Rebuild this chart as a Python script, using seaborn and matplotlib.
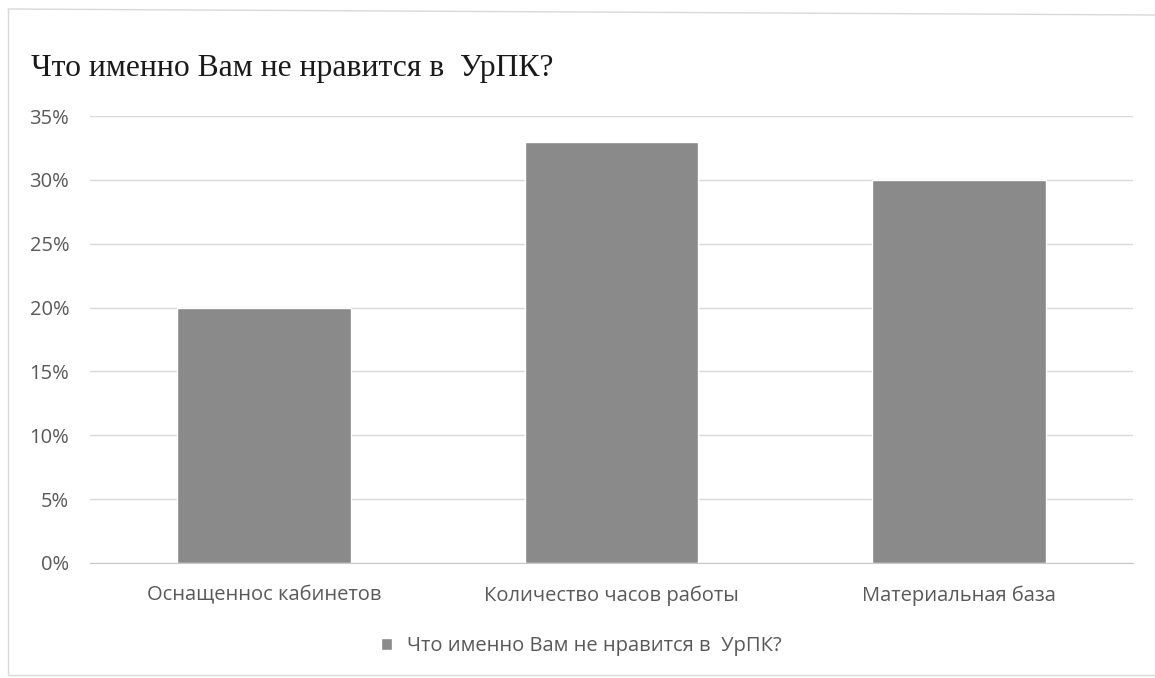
import pandas as pd
import numpy as np
import matplotlib.pyplot as plt
import seaborn as sns
from matplotlib.lines import Line2D
from matplotlib.ticker import FuncFormatter

# data
categories = ['Оснащеннос кабинетов', 'Количество часов работы', 'Материальная база']
values = [20, 33, 30]
series_name = 'Что именно Вам не нравится в  УрПК?'
title = 'Что именно Вам не нравится в  УрПК?'

df = pd.DataFrame({'category': categories, 'value': values, 'series': series_name})

sns.set_style('white')
plt.rcParams['font.family'] = ['Open Sans', 'DejaVu Sans']

fig = plt.figure(figsize=(11.55, 6.78), dpi=100)
ax = fig.add_axes([90 / 1155, 1 - 563 / 678, (1133 - 90) / 1155, (563 - 116) / 678])

sns.barplot(data=df, x='category', y='value', hue='series', palette=['#8a8a8a'],
            width=0.5, ax=ax, saturation=1)

ax.set_ylim(0, 35)
ax.set_yticks(np.arange(0, 36, 5))
ax.yaxis.set_major_formatter(FuncFormatter(lambda v, p: f'{int(v)}%'))
ax.grid(axis='y', color='#d9d9d9', linewidth=1)
ax.set_axisbelow(True)
for s in ['top', 'right', 'left']:
    ax.spines[s].set_visible(False)
ax.spines['bottom'].set_color('#c8c8c8')
ax.tick_params(axis='both', length=0, labelsize=14.5, colors='#595959')
ax.tick_params(axis='y', pad=15)
ax.tick_params(axis='x', pad=16)
ax.set_xlabel('')
ax.set_ylabel('')

# legend at bottom
ax.legend(loc='center', bbox_to_anchor=(0.471, -0.185), frameon=False,
          fontsize=14.5, handlelength=0.55, handleheight=0.55, handletextpad=0.7,
          labelcolor='#595959')

fig.text(31 / 1155, 1 - 76 / 678, title, family='Liberation Serif', fontsize=22.8,
         color='#1a1a1a', va='baseline', ha='left')

# outer chart frame (left, top, bottom)
frame_kw = dict(transform=fig.transFigure, color='#d9d9d9', linewidth=1)
fig.add_artist(Line2D([8 / 1155, 8 / 1155], [3 / 678, 1 - 9 / 678], **frame_kw))
fig.add_artist(Line2D([8 / 1155, 1], [1 - 9 / 678, 1 - 15 / 678], **frame_kw))
fig.add_artist(Line2D([8 / 1155, 1], [3 / 678, 3 / 678], **frame_kw))

plt.savefig('out.png', dpi=100)
